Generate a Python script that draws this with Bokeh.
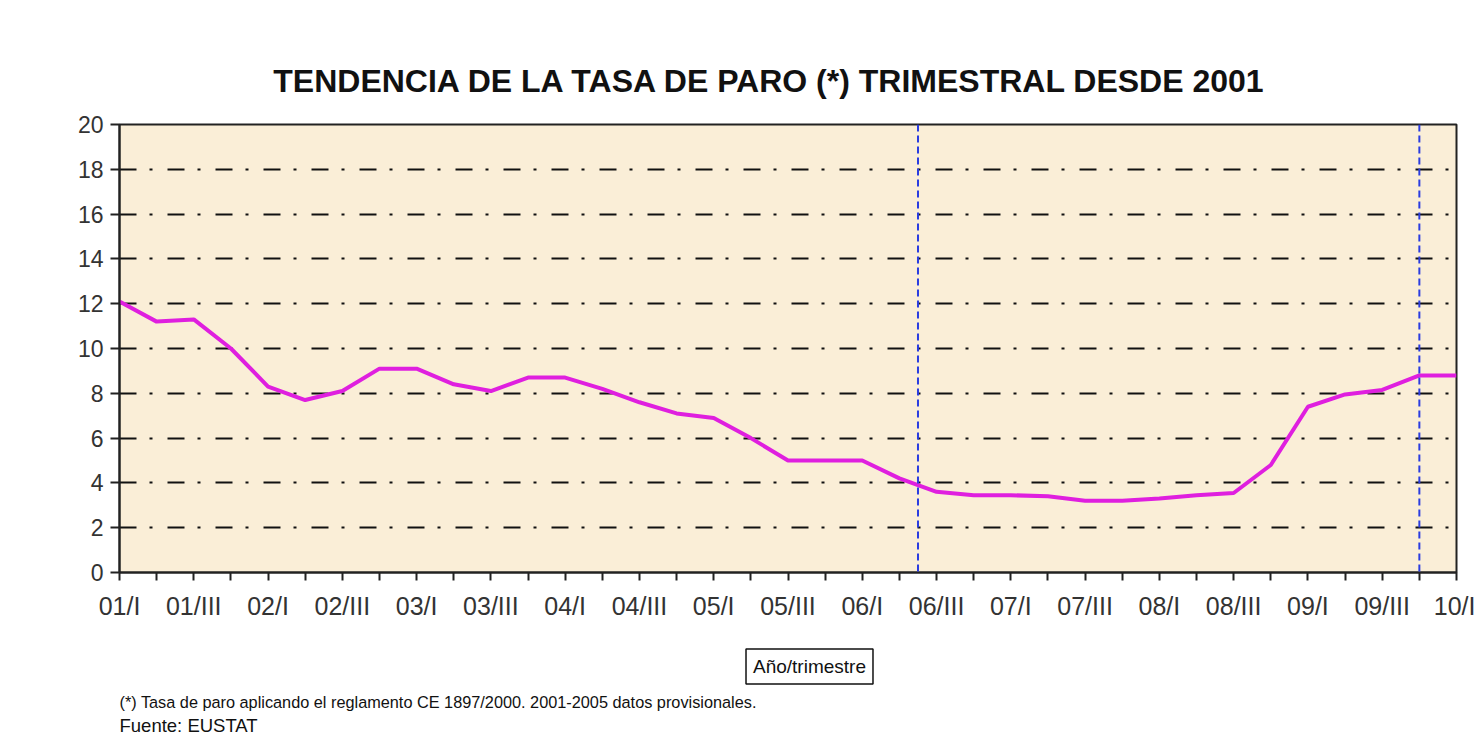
from bokeh.plotting import figure
from bokeh.models import FixedTicker, Label, Span, Range1d
from bokeh.layouts import column
from bokeh.core.properties import value
from bokeh.embed import file_html
from bokeh.resources import INLINE

# ---- data ----
quarter_labels = ["01/I", "01/III", "02/I", "02/III", "03/I", "03/III", "04/I", "04/III",
                  "05/I", "05/III", "06/I", "06/III", "07/I", "07/III", "08/I", "08/III",
                  "09/I", "09/III", "10/I"]
quarter_index = list(range(37))  # 2001/I .. 2010/I
tasa_paro = [12.1, 11.2, 11.3, 10.0, 8.3, 7.7, 8.1, 9.1, 9.1, 8.4,
             8.1, 8.7, 8.7, 8.2, 7.6, 7.1, 6.9, 6.0, 5.0, 5.0,
             5.0, 4.2, 3.6, 3.45, 3.45, 3.4, 3.2, 3.2, 3.3, 3.45,
             3.55, 4.8, 7.4, 7.95, 8.15, 8.8, 8.8]
marker_lines_x = [21.5, 35]
y_ticks = list(range(0, 21, 2))

title_text = "TENDENCIA DE LA TASA DE PARO (*) TRIMESTRAL DESDE 2001"
axis_label_text = "Año/trimestre"
note_text = "(*) Tasa de paro aplicando el reglamento CE 1897/2000. 2001-2005 datos provisionales."
source_text = "Fuente: EUSTAT"

FONT = "Liberation Sans"
W = 1475
LEFT, RIGHT = 119, 19
TOP_H = 108
MAIN_H = 519
BOT_H = 118


def blank_fig(h):
    # its frame gets aligned with the chart frame by the column layout,
    # so the x range is expressed in page pixels over that frame
    f = figure(width=W, height=h, output_backend="svg", toolbar_location=None, title=None,
               x_range=Range1d(LEFT, W - RIGHT), y_range=Range1d(0, h),
               x_axis_type=None, y_axis_type=None,
               min_border_left=LEFT, min_border_right=RIGHT,
               min_border_top=0, min_border_bottom=0,
               background_fill_color="white", border_fill_color="white",
               outline_line_color=None)
    f.grid.visible = False
    return f


# ---- title strip ----
top = blank_fig(TOP_H)
top.text(x=[770], y=[TOP_H - 80], text=[title_text], text_font=value(FONT),
         text_font_size="32px", text_font_style="bold", text_color="#111111",
         text_align="center", text_baseline="middle")

# ---- main chart ----
p = figure(width=W, height=MAIN_H, output_backend="svg", toolbar_location=None,
           title=None,
           x_range=Range1d(0, 36), y_range=Range1d(0, 20),
           min_border_left=LEFT, min_border_right=RIGHT,
           min_border_top=16, min_border_bottom=55,
           background_fill_color="#FAEED7", border_fill_color="white",
           outline_line_color="#222222", outline_line_width=2)

p.xaxis.ticker = FixedTicker(ticks=quarter_index[::2], minor_ticks=quarter_index[1::2])
p.xaxis.major_label_overrides = {quarter_index[2 * i]: lab for i, lab in enumerate(quarter_labels)}
p.xaxis.major_tick_in = 0
p.xaxis.major_tick_out = 8
p.xaxis.minor_tick_in = 0
p.xaxis.minor_tick_out = 8
p.xaxis.major_label_standoff = 11
p.xaxis.major_label_text_font_size = "25px"
p.xaxis.minor_tick_line_color = "#222222"
p.xaxis.minor_tick_line_width = 2

p.yaxis.ticker = FixedTicker(ticks=y_ticks)
p.yaxis.major_tick_in = 0
p.yaxis.major_tick_out = 9
p.yaxis.minor_tick_line_color = None
p.yaxis.major_label_standoff = 7
p.yaxis.major_label_text_font_size = "23px"

for ax in (p.xaxis, p.yaxis):
    ax.axis_line_color = "#222222"
    ax.axis_line_width = 2
    ax.major_tick_line_color = "#222222"
    ax.major_tick_line_width = 2
    ax.major_label_text_font = FONT
    ax.major_label_text_color = "#333333"

p.xgrid.visible = False
p.ygrid.ticker = FixedTicker(ticks=y_ticks)
p.ygrid.grid_line_color = "#111111"
p.ygrid.grid_line_width = 2
p.ygrid.grid_line_dash = "17 13 3 15"

for xv in marker_lines_x:
    p.add_layout(Span(location=xv, dimension="height", line_color="#2a3ce0",
                      line_width=2, line_dash="7 4"))

p.line(x=quarter_index, y=tasa_paro, line_color="#DF1FDF", line_width=4)

# ---- notes strip ----
bot = blank_fig(BOT_H)
strip_top = TOP_H + MAIN_H  # page y of this strip's top edge


def y_in_bot(page_y):
    return BOT_H - (page_y - strip_top)


bot.add_layout(Label(x=809, y=y_in_bot(666), text=axis_label_text,
                     text_font=FONT, text_font_size="19px", text_color="#111111",
                     text_align="center", text_baseline="middle",
                     border_line_color="#111111", border_line_width=1.5,
                     background_fill_color="white", padding=7))
bot.text(x=[119], y=[y_in_bot(701)], text=[note_text], text_font=value(FONT),
         text_font_size="16.3px", text_color="#111111", text_align="left",
         text_baseline="middle")
bot.text(x=[119], y=[y_in_bot(725)], text=[source_text], text_font=value(FONT),
         text_font_size="18.5px", text_color="#111111", text_align="left",
         text_baseline="middle")

layout = column(top, p, bot, spacing=0)
open("out.html", "w").write(file_html(layout, INLINE))
